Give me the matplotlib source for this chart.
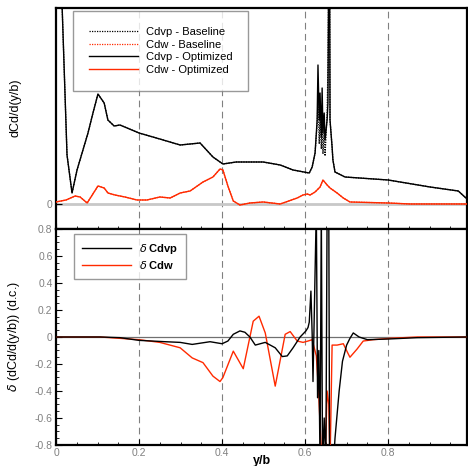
import matplotlib.pyplot as plt
from matplotlib.ticker import MultipleLocator, FixedLocator

plt.rcParams["font.family"] = ["Liberation Sans", "DejaVu Sans"]

RED = "#ff2a00"
GREY = "#808080"

# ---------------------------------------------------------------------------
# Top panel : spanwise drag distributions (arbitrary units)
# ---------------------------------------------------------------------------
x_cdvp = [0.0, 0.005, 0.0145, 0.0265, 0.0386, 0.0506, 0.077, 0.089, 0.101,
          0.116, 0.125, 0.14, 0.154, 0.2, 0.25, 0.299, 0.347, 0.378, 0.402,
          0.434, 0.499, 0.54, 0.571, 0.61, 0.617, 0.624, 0.629, 0.631, 0.634,
          0.636, 0.639, 0.641, 0.643, 0.646, 0.648, 0.653, 0.655, 0.657,
          0.659, 0.66, 0.665, 0.667, 0.672, 0.696, 0.8, 0.901, 0.969, 0.99]
cdvp_opt = [40.0, 30.0, 20.0, 4.9, 1.1, 3.4, 7.1, 9.1, 11.0,
            10.1, 8.4, 7.8, 7.9, 7.1, 6.5, 5.9, 6.1, 4.7, 4.0,
            4.2, 4.2, 3.9, 3.4, 3.1, 3.7, 5.1, 8.4, 13.9, 8.4,
            11.1, 6.7, 11.6, 7.1, 9.1, 6.4, 8.4, 10.1, 25.0,
            25.0, 8.4, 5.7, 4.4, 3.2, 2.7, 2.4, 1.7, 1.3, 0.5]
cdvp_base = [40.0, 30.0, 20.0, 4.9, 1.1, 3.4, 7.1, 9.1, 11.0,
             10.1, 8.4, 7.8, 7.9, 7.1, 6.5, 5.9, 6.1, 4.7, 4.0,
             4.2, 4.2, 3.9, 3.4, 3.1, 3.7, 5.1, 8.0, 10.5, 6.0,
             9.0, 5.5, 8.5, 5.0, 7.5, 4.8, 9.0, 14.0, 25.0,
             25.0, 8.4, 5.7, 4.4, 3.2, 2.7, 2.4, 1.7, 1.3, 0.5]

x_cdw = [0.0, 0.024, 0.046, 0.058, 0.075, 0.101, 0.116, 0.125, 0.142, 0.166,
         0.195, 0.219, 0.25, 0.275, 0.299, 0.323, 0.354, 0.378, 0.395, 0.402,
         0.414, 0.427, 0.443, 0.467, 0.499, 0.54, 0.581, 0.595, 0.605, 0.612,
         0.624, 0.636, 0.643, 0.653, 0.66, 0.677, 0.692, 0.708, 0.8, 0.853,
         0.99]
cdw_opt = [0.2, 0.4, 0.8, 0.7, 0.1, 1.8, 1.6, 1.1, 0.9, 0.7,
           0.4, 0.4, 0.7, 0.6, 1.1, 1.3, 2.2, 2.7, 3.5, 3.4,
           1.8, 0.3, -0.1, 0.1, 0.2, 0.0, 0.6, 0.9, 1.0, 0.9,
           1.2, 1.7, 2.4, 1.9, 1.6, 1.1, 0.6, 0.2, 0.1, 0.0,
           0.0]
cdw_base = [0.2, 0.4, 0.8, 0.7, 0.1, 1.8, 1.6, 1.1, 0.9, 0.7,
            0.4, 0.4, 0.7, 0.6, 1.1, 1.3, 2.2, 2.7, 3.5, 3.4,
            1.8, 0.3, -0.1, 0.1, 0.2, 0.0, 0.6, 0.9, 1.0, 0.9,
            1.2, 1.7, 2.4, 1.9, 1.6, 1.1, 0.6, 0.2, 0.1, 0.0,
            0.0]

# ---------------------------------------------------------------------------
# Bottom panel : differences (drag counts)
# ---------------------------------------------------------------------------
x_dcdvp = [0.0, 0.106, 0.154, 0.2, 0.263, 0.299, 0.328, 0.371, 0.4, 0.414,
           0.427, 0.443, 0.455, 0.467, 0.48, 0.504, 0.528, 0.545, 0.557,
           0.571, 0.588, 0.602, 0.607, 0.61, 0.614, 0.617, 0.619, 0.624,
           0.627, 0.63, 0.633, 0.636, 0.639, 0.642, 0.646, 0.65, 0.653,
           0.657, 0.659, 0.664, 0.668, 0.672, 0.682, 0.69, 0.7, 0.708,
           0.716, 0.73, 0.75, 0.8, 0.87, 0.99]
dcdvp = [0.0, 0.0, -0.005, -0.025, -0.035, -0.04, -0.055, -0.035, -0.05, -0.03,
         0.02, 0.045, 0.035, 0.0, -0.06, -0.04, -0.08, -0.145, -0.14,
         -0.08, 0.0, 0.045, 0.07, 0.11, 0.34, 0.02, -0.33, 0.48,
         0.95, -0.45, -0.1, -0.95, 0.95, -0.95, -0.6, -0.95, 0.95,
         0.95, -0.95, -0.95, -0.95, -0.75, -0.4, -0.18, -0.06, -0.01,
         0.03, 0.0, -0.02, -0.015, -0.005, 0.0]

x_dcdw = [0.0, 0.106, 0.154, 0.2, 0.25, 0.299, 0.328, 0.354, 0.378, 0.395,
          0.402, 0.427, 0.451, 0.475, 0.489, 0.504, 0.528, 0.552, 0.564,
          0.581, 0.595, 0.607, 0.617, 0.627, 0.632, 0.64, 0.648, 0.653,
          0.657, 0.66, 0.665, 0.677, 0.692, 0.703, 0.708, 0.725, 0.74,
          0.764, 0.805, 0.87, 0.99]
dcdw = [0.0, 0.0, -0.01, -0.02, -0.04, -0.08, -0.155, -0.19, -0.29, -0.33,
        -0.30, -0.105, -0.235, 0.117, 0.154, 0.03, -0.364, 0.02, 0.04,
        -0.03, -0.04, -0.03, -0.02, -0.14, -0.38, -0.9, -0.95, -0.4,
        -0.5, -0.95, -0.06, -0.06, -0.05, -0.12, -0.15, -0.09, -0.03,
        -0.02, -0.01, 0.0, 0.0]

X_GRID = [0.2, 0.4, 0.6, 0.8]


def style_axis(ax):
    for s in ax.spines.values():
        s.set_linewidth(1.6)
        s.set_color("black")
    ax.tick_params(which="both", direction="in", colors="black",
                   labelcolor=GREY, labelsize=7.5, pad=2.5)
    ax.tick_params(which="major", length=4)
    ax.tick_params(which="minor", length=2.5)
    for xv in X_GRID:
        ax.axvline(xv, color=GREY, lw=0.8, ls=(0, (6, 4)), zorder=0)
    ax.set_xlim(0, 0.99)
    ax.xaxis.set_major_locator(FixedLocator([0, 0.2, 0.4, 0.6, 0.8]))
    ax.xaxis.set_minor_locator(MultipleLocator(0.05))


fig = plt.figure(figsize=(4.68, 4.66), dpi=100)
ax1 = fig.add_axes([0.1197, 0.5086, 0.8782, 0.4742])
ax2 = fig.add_axes([0.1197, 0.0451, 0.8782, 0.4635])

# ---- top panel ----
style_axis(ax1)
ax1.axhline(0, color="#c8c8c8", lw=2, zorder=1)
ax1.plot(x_cdvp, cdvp_base, color="black", lw=0.9, ls=(0, (1, 1)),
         label="Cdvp - Baseline", zorder=3)
ax1.plot(x_cdw, cdw_base, color=RED, lw=0.9, ls=(0, (1, 1)),
         label="Cdw - Baseline", zorder=3)
ax1.plot(x_cdvp, cdvp_opt, color="black", lw=1.0,
         label="Cdvp - Optimized", zorder=4)
ax1.plot(x_cdw, cdw_opt, color=RED, lw=1.0,
         label="Cdw - Optimized", zorder=4)
ax1.set_ylim(-2.5, 19.6)
ax1.set_yticks([0])
ax1.set_yticklabels(["0"])
ax1.tick_params(axis="x", labelbottom=False)
ax1.set_ylabel("dCd/d(y/b)", fontsize=9)
ax1.yaxis.set_label_coords(-0.083, 0.55)
leg1 = ax1.legend(loc="upper left", bbox_to_anchor=(0.041, 0.986),
                  fontsize=8, frameon=True, fancybox=False,
                  handlelength=4.4, borderpad=1.45, labelspacing=0.22,
                  handletextpad=0.7, borderaxespad=0)
leg1.get_frame().set_edgecolor(GREY)
leg1.get_frame().set_linewidth(1.0)

# ---- bottom panel ----
style_axis(ax2)
ax2.axhline(0, color="#707070", lw=0.9, zorder=1)
ax2.plot(x_dcdvp, dcdvp, color="black", lw=1.0, label=r"$\delta$ Cdvp", zorder=4)
ax2.plot(x_dcdw, dcdw, color=RED, lw=1.0, label=r"$\delta$ Cdw", zorder=3)
ax2.set_ylim(-0.8, 0.8)
ax2.yaxis.set_major_locator(MultipleLocator(0.2))
ax2.yaxis.set_minor_locator(MultipleLocator(0.05))
ax2.set_yticks([-0.8, -0.6, -0.4, -0.2, 0, 0.2, 0.4, 0.6, 0.8])
ax2.set_yticklabels(["-0.8", "-0.6", "-0.4", "-0.2", "0",
                     "0.2", "0.4", "0.6", "0.8"])
ax2.set_xticklabels(["0", "0.2", "0.4", "0.6", "0.8"])
ax2.set_xlabel("y/b", fontsize=9, fontweight="bold")
ax2.xaxis.set_label_coords(0.5, -0.045)
ax2.set_ylabel(r"$\delta$ (dCd/d(y/b)) (d.c.)", fontsize=9)
ax2.yaxis.set_label_coords(-0.083, 0.5)
leg2 = ax2.legend(loc="upper left", bbox_to_anchor=(0.043, 0.977),
                  prop={"size": 8, "weight": "bold"}, frameon=True,
                  fancybox=False, handlelength=4.4, borderpad=0.75,
                  labelspacing=0.22, handletextpad=0.7, borderaxespad=0)
leg2.get_frame().set_edgecolor(GREY)
leg2.get_frame().set_linewidth(1.0)

fig.savefig("out.png", dpi=100)
